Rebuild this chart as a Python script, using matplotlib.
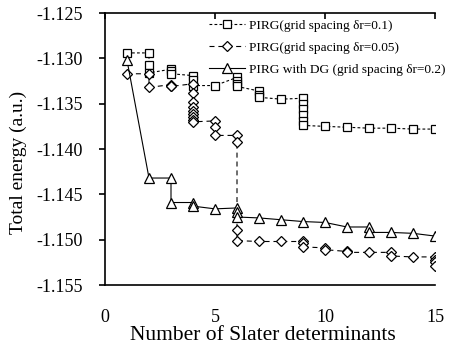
import matplotlib
matplotlib.use("Agg")
from matplotlib import pyplot as plt

plt.rcParams['font.family'] = ['Liberation Serif', 'DejaVu Serif']

# PIRG, grid spacing 0.1 (squares)
sq_n = [1, 2, 2, 2, 3, 3, 3, 4, 4, 4, 5, 6, 6, 6, 6, 7, 7, 7, 8,
        9, 9, 9, 9, 9, 9, 10, 11, 12, 13, 14, 15]
sq_e = [-1.1294, -1.1294, -1.1307, -1.1316, -1.1312, -1.1314, -1.1317,
        -1.1319, -1.1324, -1.1330, -1.1330, -1.1321, -1.1325, -1.1328,
        -1.1331, -1.1336, -1.1340, -1.1343, -1.1345,
        -1.1344, -1.1350, -1.1356, -1.1363, -1.1369, -1.1374,
        -1.1375, -1.1376, -1.1377, -1.1377, -1.1378, -1.1378]

# PIRG, grid spacing 0.05 (diamonds)
di_n = [1, 2, 2, 3, 3, 3, 4, 4, 4, 4, 4, 4, 4, 4, 4, 5, 5, 5,
        6, 6, 6, 6, 7, 8, 9, 9, 9, 10, 10, 11, 11, 12, 13, 13, 14,
        15, 15, 15, 15]
di_e = [-1.1317, -1.1317, -1.1332, -1.1329, -1.1330, -1.1331,
        -1.1328, -1.1338, -1.1348, -1.1354, -1.1358, -1.1361, -1.1365,
        -1.1368, -1.1370, -1.1369, -1.1376, -1.1385,
        -1.1385, -1.1392, -1.1489, -1.1501, -1.1502, -1.1502,
        -1.1502, -1.1504, -1.1508, -1.1509, -1.1511, -1.1513, -1.1514,
        -1.1514, -1.1514, -1.1518, -1.1519,
        -1.1519, -1.1522, -1.1525, -1.1529]

# PIRG with DG, grid spacing 0.2 (triangles)
tr_n = [1, 2, 3, 3, 4, 4, 5, 6, 6, 6, 7, 8, 9, 10, 11, 12, 12, 13, 14, 15]
tr_e = [-1.1302, -1.1432, -1.1432, -1.1459, -1.1459, -1.1463, -1.1466,
        -1.1465, -1.1470, -1.1475, -1.1476, -1.1478, -1.1480, -1.1481,
        -1.1486, -1.1486, -1.1492, -1.1492, -1.1493, -1.1496]

labels = ["PIRG(grid spacing \u03b4r=0.1)",
          "PIRG(grid spacing \u03b4r=0.05)",
          "PIRG with DG (grid spacing \u03b4r=0.2)"]

fig = plt.figure(figsize=(4.52, 3.52), dpi=100)
ax = fig.add_axes([0.2323, 0.1903, 0.7301, 0.7727])

ax.plot(sq_n, sq_e, color='black', lw=0.8, ls=(0, (2.5, 2)),
        marker='s', ms=6, mfc='white', mec='black', mew=0.9, label=labels[0])
ax.plot(di_n, di_e, color='black', lw=0.8, ls=(0, (4.5, 3.5)),
        marker='D', ms=4.8, mfc='white', mec='black', mew=0.9, label=labels[1])
ax.plot(tr_n, tr_e, color='black', lw=0.8, ls='-',
        marker='^', ms=7.5, mfc='white', mec='black', mew=0.9, label=labels[2])

ax.set_xlim(0, 15)
ax.set_ylim(-1.155, -1.125)
ax.set_xticks([0, 5, 10, 15])
ax.set_yticks([-1.155, -1.150, -1.145, -1.140, -1.135, -1.130, -1.125])
ax.set_yticklabels([f"{v:.3f}" for v in ax.get_yticks()])

ax.spines['right'].set_visible(False)
for s in ['left', 'top', 'bottom']:
    ax.spines[s].set_linewidth(1.2)

ax.tick_params(axis='y', direction='out', length=4, width=1.2, pad=12,
               labelsize=13)
ax.tick_params(axis='x', bottom=False, top=True, direction='in', length=4,
               width=1.2, pad=17, labelsize=13)

ax.set_xlabel("Number of Slater determinants", fontsize=15.5)
ax.set_ylabel("Total energy (a.u.)", fontsize=14)
ax.xaxis.set_label_coords(0.479, -0.152)
ax.yaxis.set_label_coords(-0.235, 0.45)

ax.legend(loc='upper left', bbox_to_anchor=(0.462, 0.945),
          bbox_transform=fig.transFigure, frameon=False,
          fontsize=9.6, handlelength=2.75, handletextpad=0.25, labelspacing=0.72,
          borderaxespad=0, borderpad=0)

fig.savefig("out.png", dpi=100)
